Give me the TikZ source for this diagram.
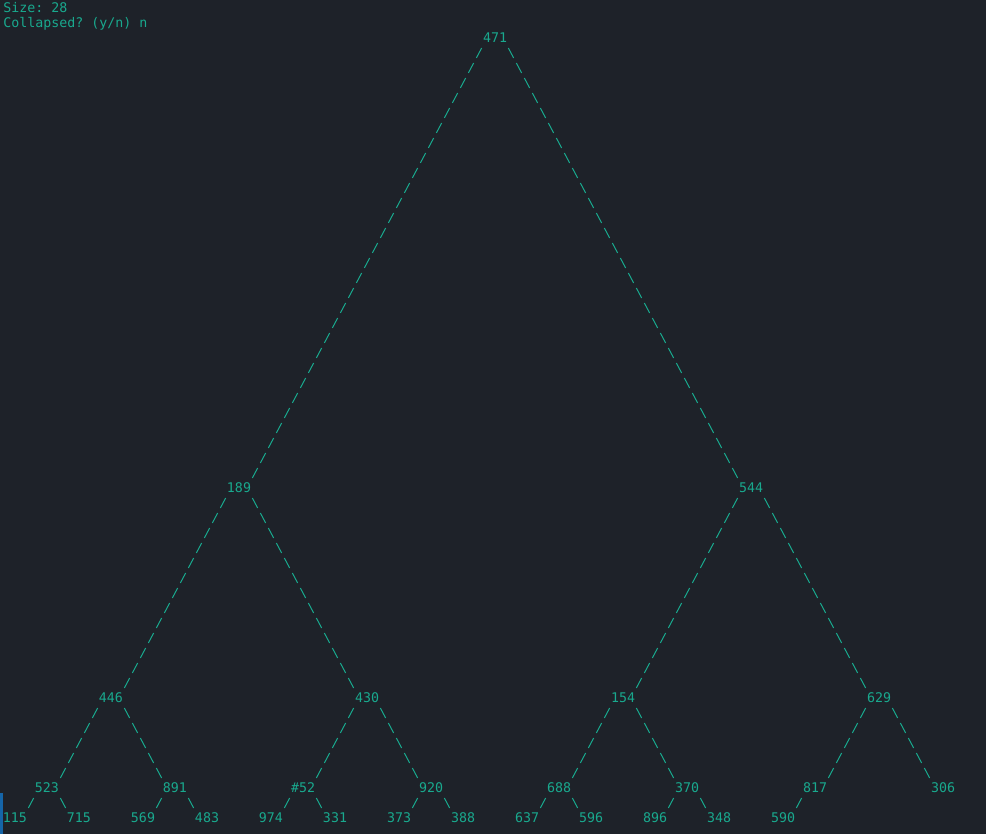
\documentclass[tikz,border=0pt]{standalone}
\usepackage{fontspec}
\setmonofont{DejaVu Sans Mono}
\usepackage{tikz}
\usetikzlibrary{calc}
\definecolor{term}{HTML}{1E2229}
\definecolor{teal}{HTML}{19A98E}
\definecolor{cursor}{HTML}{1565A8}
\tikzset{
  key/.style={text=teal,font=\ttfamily\fontsize{6.645}{7.5}\selectfont,inner sep=0pt,text height=4.85pt,text depth=0pt,yshift=-.5pt},
  link/.style={teal,line width=.5pt,dash pattern=on 5.6pt off 2.9pt}
}

\begin{document}
\begin{tikzpicture}[x=4pt,y=7.5pt]
\fill[term] (-.375,.4667) rectangle (122.875,-55.1333);
\useasboundingbox (-.375,.4667) rectangle (122.875,-55.1333);
\fill[cursor] (-.375,-52.4) rectangle (0,-55.1333);
\node[key,anchor=west] (size) at (0,0) {Size: 28};
\node[key,anchor=west] (ask) at (0,-1) {Collapsed? (y/n) n};
% tree, one column = one character
\node[key] (n471) at (61.5,-2) {471};
\node[key] (n189) at (29.5,-32) {189};
\node[key] (n544) at (93.5,-32) {544};
\node[key] (n446) at (13.5,-46) {446};
\node[key] (n430) at (45.5,-46) {430};
\node[key] (n154) at (77.5,-46) {154};
\node[key] (n629) at (109.5,-46) {629};
\node[key] (n523) at (5.5,-52) {523};
\node[key] (n891) at (21.5,-52) {891};
\node[key] (n52) at (37.5,-52) {\#52};
\node[key] (n920) at (53.5,-52) {920};
\node[key] (n688) at (69.5,-52) {688};
\node[key] (n370) at (85.5,-52) {370};
\node[key] (n817) at (101.5,-52) {817};
\node[key] (n306) at (117.5,-52) {306};
\foreach \v/\x in {115/1.5,715/9.5,569/17.5,483/25.5,974/33.5,331/41.5,373/49.5,388/57.5,637/65.5,596/73.5,896/81.5,348/89.5,590/97.5}
  \node[key] (n\v) at (\x,-54) {\v};
% left branches
\foreach \p/\c in {471/189,189/446,544/154,446/523,430/52,154/688,629/817,523/115,891/569,52/974,920/373,688/637,370/896,817/590}
  \draw[link] ($(n\p)+(-1.67,-.67)$) -- ($(n\c)+(1.67,.67)$);
% right branches
\foreach \p/\c in {471/544,189/430,544/629,446/891,430/920,154/370,629/306,523/715,891/483,52/331,920/388,688/596,370/348}
  \draw[link] ($(n\p)+(1.67,-.67)$) -- ($(n\c)+(-1.67,.67)$);
\end{tikzpicture}
\end{document}
